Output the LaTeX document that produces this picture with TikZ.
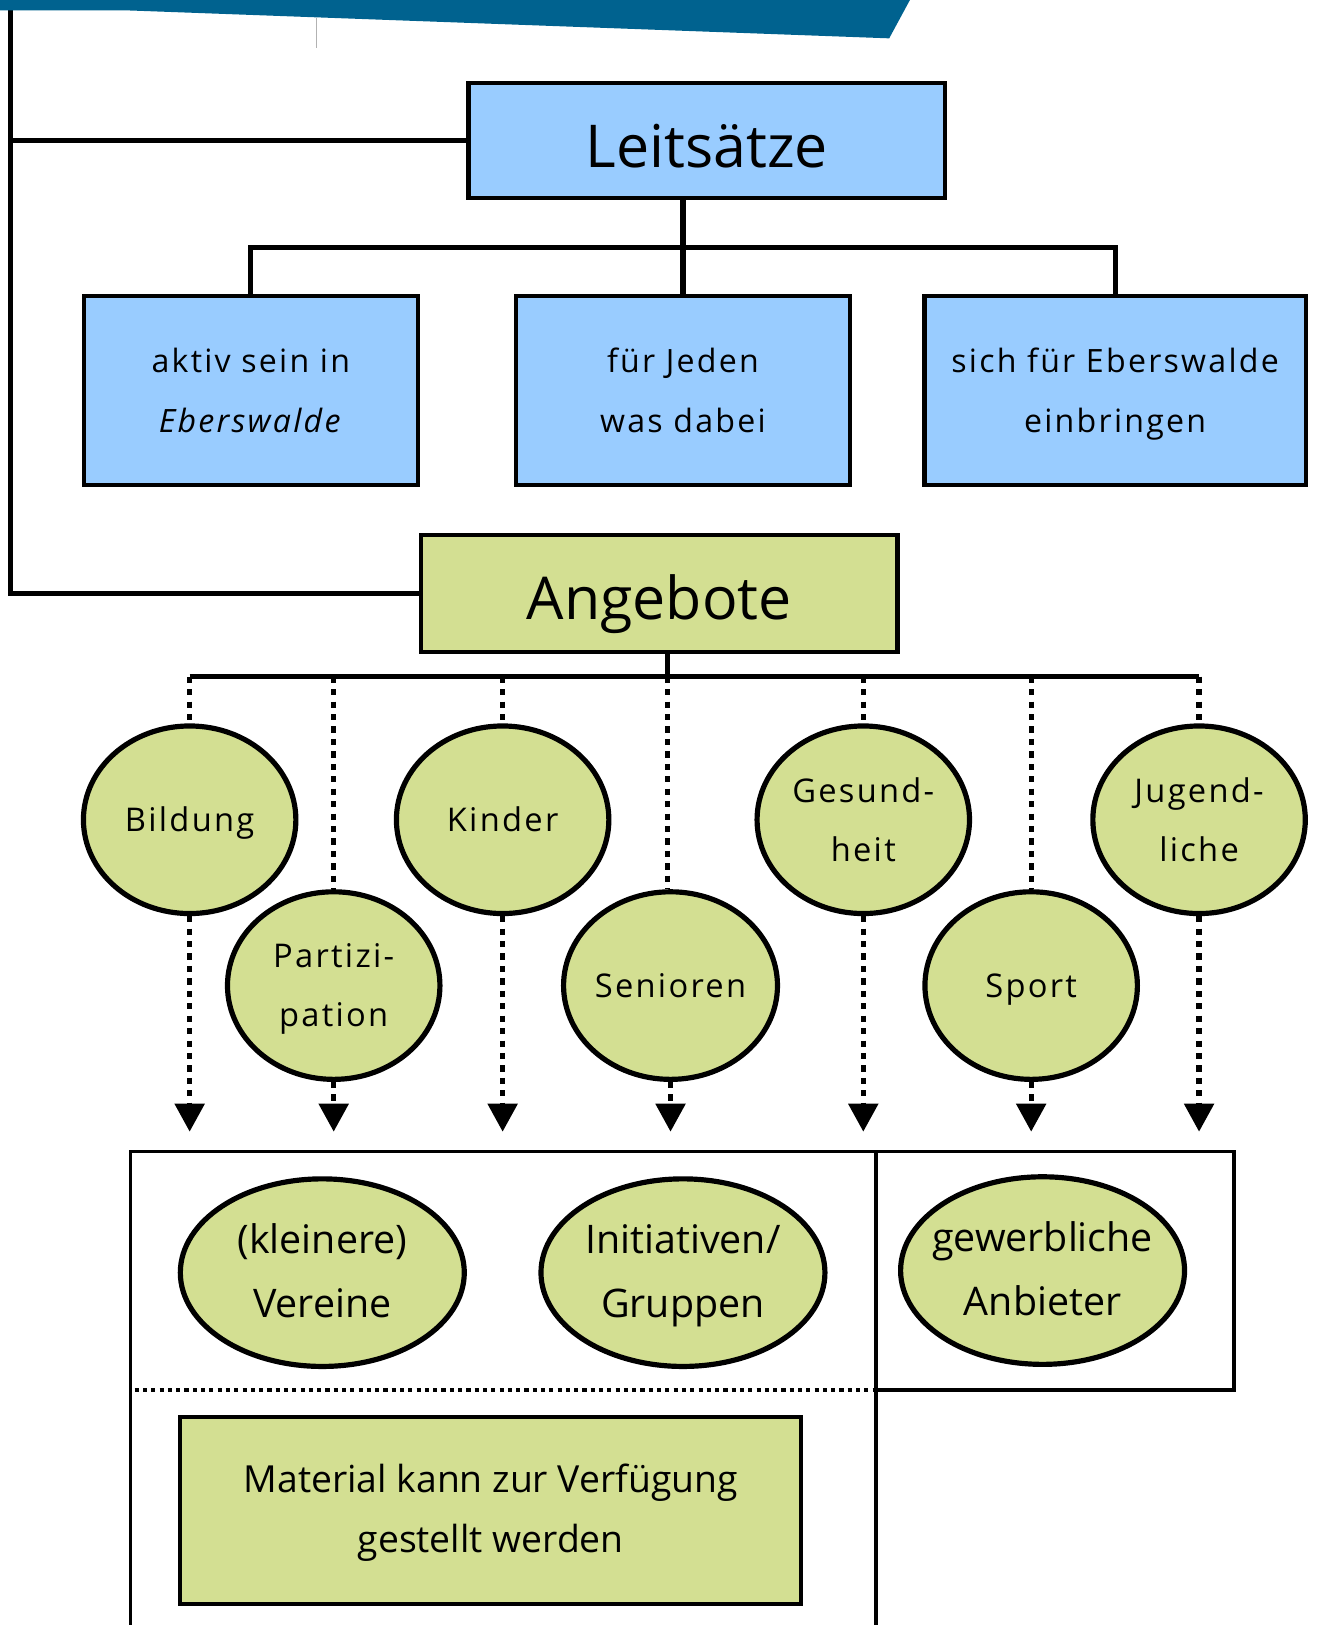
\documentclass[tikz,border=0pt]{standalone}
\usepackage{fontspec}
\setmainfont{Open Sans}
\newfontfamily\spc[LetterSpace=7]{Open Sans}
\usetikzlibrary{arrows.meta,shapes.geometric}
\definecolor{lblue}{RGB}{153,204,255}
\definecolor{lgreen}{RGB}{211,223,146}
\definecolor{bannerblue}{RGB}{0,98,143}
\begin{document}
\begin{tikzpicture}[x=1pt,y=-1pt,
  conn/.style={line width=5pt},
  bluebox/.style={draw=black,line width=4pt,fill=lblue,inner sep=0pt,align=center,minimum height=182pt},
  greenbox/.style={draw=black,line width=4pt,fill=lgreen,inner sep=0pt,align=center},
  subtext/.style={font=\spc\fontsize{31}{58}\selectfont},
  topic/.style={ellipse,draw=black,line width=5pt,fill=lgreen,inner sep=0pt,minimum width=205pt,minimum height=181pt,align=center,font=\spc\fontsize{31.5}{57}\selectfont},
  actor/.style={ellipse,draw=black,line width=5pt,fill=lgreen,inner ysep=0pt,inner xsep=-20pt,minimum width=274pt,minimum height=181pt,align=center,font=\fontsize{38}{62}\selectfont},
  dotl/.style={line width=5pt,dash pattern=on 6pt off 6pt},
  dotarr/.style={line width=5pt,dash pattern=on 6pt off 6pt,-{Triangle[width=28pt,length=27pt]}},
  frameline/.style={line width=3.5pt},
  dotframe/.style={line width=4pt,dash pattern=on 4pt off 4pt}
]
\useasboundingbox (0,0) rectangle (1272,1568);

% left frame line and banner
\coordinate (ltop) at (10,0);
\node[bluebox,minimum width=460pt,minimum height=111pt,font=\fontsize{57}{60}\selectfont,text height=53pt,text depth=0pt] (leit) at (682,135.5) {Leits\"atze};
\node[greenbox,minimum width=460pt,minimum height=113pt,font=\fontsize{57}{60}\selectfont,text height=51pt,text depth=0pt] (ang) at (636,572.5) {Angebote};
\draw[conn] (ltop) |- (ang.west);
\draw[conn] (leit.west) -- (leit.west -| ltop);
\fill[bannerblue] (0,0) -- (878,0) -- (858,37) -- (122,10) -- (0,10) -- cycle;
\draw[gray!60,line width=0.6pt] (305,17) -- (305,46);

% Leitsaetze children
\node[bluebox,minimum width=322pt,subtext] (b1) at (242,377) {aktiv sein in\strut\\\textit{Eberswalde}\strut};
\node[bluebox,minimum width=322pt,subtext] (b2) at (659,377) {f\"ur Jeden\strut\\was dabei\strut};
\node[bluebox,minimum width=368pt,subtext] (b3) at (1076,377) {sich f\"ur Eberswalde\strut\\einbringen\strut};
\coordinate (hb) at (659,239);
\draw[conn] (leit.south -| b2.north) -- (b2.north);
\draw[conn] (b1.north) |- (hb) -| (b3.north);

% topics
\node[topic] (bild) at (183,791) {Bildung\strut};
\node[topic] (kind) at (485,791) {Kinder\strut};
\node[topic] (gesu) at (833,791) {Gesund-\strut\\heit\strut};
\node[topic] (jug) at (1157,791) {Jugend-\strut\\liche\strut};
\node[topic] (part) at (322,951) {Partizi-\strut\\pation\strut};
\node[topic] (sen) at (647,951) {Senioren\strut};
\node[topic] (sport) at (995,951) {Sport\strut};

\coordinate (bar) at (644,653);
\coordinate (tips) at (0,1092);
\draw[conn] (ang.south -| bar) -- (bar);
\draw[conn] (bild.north |- bar) -- (jug.north |- bar);
\foreach \e in {bild,kind,gesu,jug,part,sport}{
  \draw[dotl] (\e.north |- bar) -- (\e.north);
}
\draw[dotl] (bar) -- (bar |- sen.north);
\foreach \e in {bild,kind,gesu,jug,part,sen,sport}{
  \draw[dotarr] (\e.south) -- (\e.south |- tips);
}

% bottom frame
\draw[frameline] (126,1568) -- (126,1111) -- (1191,1111) -- (1191,1341) -- (845,1341);
\draw[frameline] (845,1111) -- (845,1568);
\draw[dotframe] (130,1341) -- (845,1341);

\node[actor] (ver) at (311,1228) {(kleinere)\strut\\Vereine\strut};
\node[actor] (ini) at (659,1228) {Initiativen/\strut\\Gruppen\strut};
\node[actor] (gew) at (1006,1226) {gewerbliche\strut\\Anbieter\strut};
\node[greenbox,minimum width=599pt,minimum height=181pt,font=\fontsize{36}{58}\selectfont] (mat) at (473.5,1457.5) {Material kann zur Verf\"ugung\strut\\gestellt werden\strut};
\end{tikzpicture}
\end{document}
